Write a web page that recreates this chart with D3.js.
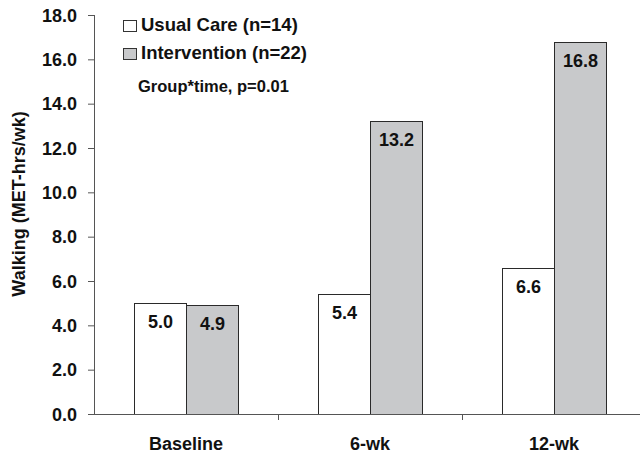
<!DOCTYPE html>
<html><head><meta charset="utf-8">
<script src="https://cdn.jsdelivr.net/npm/d3@7/dist/d3.min.js"></script>
<style>body{margin:0;background:#fff}svg{display:block;font-family:"Liberation Sans",Arial,sans-serif;font-weight:bold}</style>
</head><body><svg id="c" width="640" height="455"></svg>
<script>
const categories = ["Baseline", "6-wk", "12-wk"];
const seriesNames = ["Usual Care (n=14)", "Intervention (n=22)"];
const usualCare = [5.0, 5.4, 6.6];
const intervention = [4.9, 13.2, 16.8];
const yTicks = [0, 2, 4, 6, 8, 10, 12, 14, 16, 18];
const note = "Group*time, p=0.01";
const yTitle = "Walking (MET-hrs/wk)";

const colors = ["#ffffff", "#c8c9cb"];
const FONT = '"Liberation Sans",Arial,sans-serif';
const svg = d3.select("#c");
const x0 = 94, x1 = 646, yTop = 15, yBot = 414;
const x = d3.scaleBand().domain(categories).range([x0, x1]).paddingInner(0).paddingOuter(0);
const xs = d3.scaleBand().domain([0, 1]).range([0, 104]);
const y = d3.scaleLinear().domain([0, 18]).range([yBot, yTop]);

const data = categories.map((c, i) => ({c, v: [usualCare[i], intervention[i]]}));

// bars
const g = svg.append("g");
data.forEach(d => {
  d.v.forEach((v, s) => {
    const bx = Math.round(x(d.c) + (x.bandwidth() - 104) / 2 + xs(s));
    g.append("rect").attr("x", bx + 0.5).attr("y", Math.round(y(v)) + 0.5).attr("width", xs.bandwidth())
      .attr("height", yBot - Math.round(y(v))).attr("fill", colors[s]).attr("stroke", "#2a2a2a").attr("stroke-width", 1);
    g.append("text").attr("x", bx + xs.bandwidth() / 2 + 0.5).attr("y", y(v) + 25)
      .attr("text-anchor", "middle").attr("font-size", 18).attr("fill", "#111").text(v.toFixed(1));
  });
});

// y axis
const ya = svg.append("g").attr("transform", `translate(${x0},0)`)
  .call(d3.axisLeft(y).tickValues(yTicks).tickFormat(d3.format(".1f")).tickSize(6).tickPadding(11));
ya.select(".domain").attr("stroke", "#555").attr("d", `M0.5,${yTop}V${yBot}`);
ya.selectAll(".tick line").attr("stroke", "#555");
ya.selectAll(".tick text").attr("font-size", 18).attr("font-family", FONT).attr("font-weight", "bold").attr("fill", "#111").attr("dy", "0.34em");

// x axis
const xa = svg.append("g").attr("transform", `translate(0,${yBot})`)
  .call(d3.axisBottom(x).tickSize(0).tickPadding(0));
xa.select(".domain").attr("stroke", "#555").attr("d", `M${x0},0.5H${x1}`);
xa.selectAll(".tick text").attr("font-size", 18).attr("font-family", FONT).attr("font-weight", "bold")
  .attr("fill", "#111").attr("y", 36).attr("dy", null);
// category boundary ticks
svg.append("g").selectAll("line").data(categories.slice(1)).join("line")
  .attr("x1", d => Math.round(x(d)) + 0.5).attr("x2", d => Math.round(x(d)) + 0.5)
  .attr("y1", yBot).attr("y2", yBot + 6).attr("stroke", "#555");

// y title
svg.append("text").attr("transform", "translate(25,204) rotate(-90)").attr("text-anchor", "middle")
  .attr("font-size", 18).attr("fill", "#111").text(yTitle);

// legend
const lg = svg.append("g");
seriesNames.forEach((n, i) => {
  const ly = 20 + i * 28;
  lg.append("rect").attr("x", 123.5).attr("y", ly + 0.5).attr("width", 13).attr("height", 11)
    .attr("fill", colors[i]).attr("stroke", "#333");
  lg.append("text").attr("x", 141).attr("y", ly + 11).attr("font-size", 18.5).attr("fill", "#111").text(n);
});
lg.append("text").attr("x", 138).attr("y", 92).attr("font-size", 16.5).attr("fill", "#111").text(note);
</script></body></html>
